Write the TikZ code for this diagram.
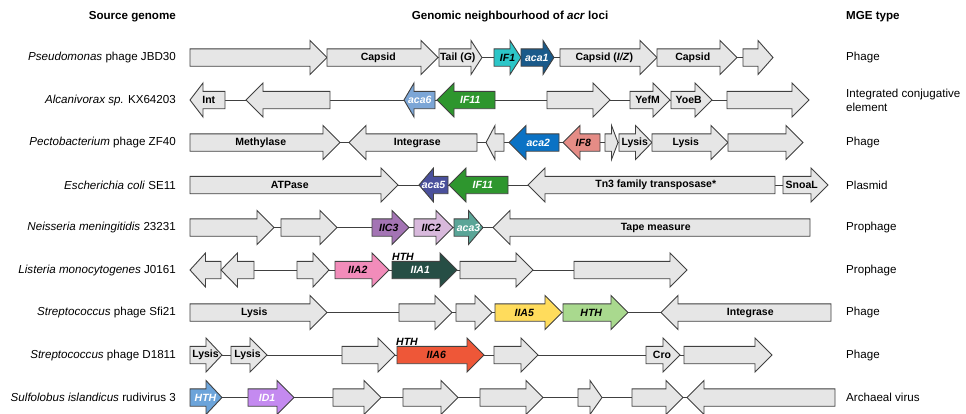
\documentclass[tikz,border=0pt]{standalone}
\usepackage{fontspec}
\setmainfont{Liberation Sans}
\usepackage{tikz}
\definecolor{GeneGray}{HTML}{E6E6E6}
\definecolor{GeneLine}{HTML}{404040}
\definecolor{AcrIFa}{HTML}{2CC6C8}
\definecolor{AcrAcaA}{HTML}{1A5A8A}
\definecolor{AcrAcaF}{HTML}{7CA6D6}
\definecolor{AcrIFk}{HTML}{2E962E}
\definecolor{AcrAcaB}{HTML}{0B72C4}
\definecolor{AcrIFh}{HTML}{E58C86}
\definecolor{AcrAcaE}{HTML}{4A509C}
\definecolor{AcrIICc}{HTML}{A374B4}
\definecolor{AcrIICb}{HTML}{D8B9DC}
\definecolor{AcrAcaC}{HTML}{5AA597}
\definecolor{AcrIIAb}{HTML}{F28CBA}
\definecolor{AcrIIAa}{HTML}{264E45}
\definecolor{AcrIIAe}{HTML}{FFDC5C}
\definecolor{AcrHTHg}{HTML}{A9D98E}
\definecolor{AcrIIAf}{HTML}{EE5738}
\definecolor{AcrHTHb}{HTML}{6CA4DA}
\definecolor{AcrIDa}{HTML}{C48AF0}
\newcounter{genecount}
% forward gene: [head] x-start, x-tip, fill, label style, label
\newcommand{\fgene}[6][17]{%
  \pgfmathsetmacro{\ghead}{min(#1,0.5*(#3-#2))}%
  \pgfmathsetmacro{\gshift}{min(\ghead/4,max(0,(#3-#2-30)/4))}%
  \stepcounter{genecount}%
  \filldraw[gene,fill=#4] (#2,\rowy-8.7) -- ({#3-\ghead},\rowy-8.7) -- ({#3-\ghead},\rowy-17) -- (#3,\rowy) -- ({#3-\ghead},\rowy+17) -- ({#3-\ghead},\rowy+8.7) -- (#2,\rowy+8.7) -- cycle;
  \node[#5] (g\thegenecount) at ({(#2+#3)/2-\gshift},\rowy) {#6};}
% reverse gene: [head] x-tip, x-end, fill, label style, label
\newcommand{\rgene}[6][17]{%
  \pgfmathsetmacro{\ghead}{min(#1,0.5*(#3-#2))}%
  \pgfmathsetmacro{\gshift}{min(\ghead/4,max(0,(#3-#2-30)/4))}%
  \stepcounter{genecount}%
  \filldraw[gene,fill=#4] (#3,\rowy-8.7) -- ({#2+\ghead},\rowy-8.7) -- ({#2+\ghead},\rowy-17) -- (#2,\rowy) -- ({#2+\ghead},\rowy+17) -- ({#2+\ghead},\rowy+8.7) -- (#3,\rowy+8.7) -- cycle;
  \node[#5] (g\thegenecount) at ({(#2+#3)/2+\gshift},\rowy) {#6};}

\begin{document}
\begin{tikzpicture}[x=1pt,y=-1pt,
    gene/.style={draw=GeneLine,line width=0.9pt},
    backbone/.style={draw=GeneLine,line width=0.9pt},
    glab/.style={inner sep=0pt,font=\fontsize{10.5}{12}\selectfont\bfseries},
    acrk/.style={inner sep=0pt,font=\fontsize{10.5}{12}\selectfont\bfseries\itshape},
    acrw/.style={acrk,text=white},
    srclab/.style={anchor=east,inner sep=0pt,font=\fontsize{11.6}{14}\selectfont},
    mgelab/.style={anchor=west,inner sep=0pt,align=left,font=\fontsize{11.6}{14}\selectfont},
    headlab/.style={inner sep=0pt,font=\fontsize{11.6}{14}\selectfont\bfseries}]
  \useasboundingbox (0,0) rectangle (966,413);
  \fill[white] (0,0) rectangle (966,413);
  % column headers
  \node[headlab,anchor=east] (hsrc) at (176,17) {Source genome};
  \node[headlab] (hgen) at (510,17) {Genomic neighbourhood of \textit{acr} loci};
  \node[headlab,anchor=west] (hmge) at (846,17) {MGE type};
  % row labels
  \foreach \i/\src/\mge in {1/{\textit{Pseudomonas} phage JBD30}/Phage,
      2/{\textit{Alcanivorax sp.} KX64203}/{Integrated conjugative\\element},
      3/{\textit{Pectobacterium} phage ZF40}/Phage,
      4/{\textit{Escherichia coli} SE11}/Plasmid,
      5/{\textit{Neisseria meningitidis} 23231}/Prophage,
      6/{\textit{Listeria monocytogenes} J0161}/Prophage,
      7/{\textit{Streptococcus} phage Sfi21}/Phage,
      8/{\textit{Streptococcus} phage D1811}/Phage,
      9/{\textit{Sulfolobus islandicus} rudivirus 3}/Archaeal virus}{
    \node[srclab] (src\i) at (176,{57.5+42.5*(\i-1)}) {\src};
    \node[mgelab] (mge\i) at (846,{57.5+42.5*(\i-1)}) {\mge};
  }

  % row 1
  \def\rowy{57.5}
  \coordinate (r1a) at (190,\rowy); \coordinate (r1b) at (773,\rowy);
  \draw[backbone] (r1a) -- (r1b);
  \fgene{190}{327}{GeneGray}{glab}{}
  \fgene{327}{438}{GeneGray}{glab}{Capsid}
  \fgene[11]{439}{482}{GeneGray}{glab}{Tail (\textit{G})}
  \fgene[11]{494}{521}{AcrIFa}{acrk}{IF1}
  \fgene[11]{521}{554}{AcrAcaA}{acrw}{aca1}
  \fgene{560}{657}{GeneGray}{glab}{Capsid (\textit{I/Z})}
  \fgene{657}{737}{GeneGray}{glab}{Capsid}
  \fgene{743}{773}{GeneGray}{glab}{}

  % row 2
  \def\rowy{100}
  \coordinate (r2a) at (190,\rowy); \coordinate (r2b) at (809,\rowy);
  \draw[backbone] (r2a) -- (r2b);
  \rgene[13]{190}{225}{GeneGray}{glab}{Int}
  \rgene{246}{330}{GeneGray}{glab}{}
  \rgene[10]{404}{435}{AcrAcaF}{acrw}{aca6}
  \rgene{437}{495}{AcrIFk}{acrw}{IF11}
  \fgene{547}{610}{GeneGray}{glab}{}
  \fgene{630}{670}{GeneGray}{glab}{YefM}
  \fgene{671}{712}{GeneGray}{glab}{YoeB}
  \fgene{727}{809}{GeneGray}{glab}{}

  % row 3
  \def\rowy{142.5}
  \coordinate (r3a) at (190,\rowy); \coordinate (r3b) at (803,\rowy);
  \draw[backbone] (r3a) -- (r3b);
  \fgene{190}{340}{GeneGray}{glab}{Methylase}
  \rgene{349}{477}{GeneGray}{glab}{Integrase}
  \rgene{486}{504}{GeneGray}{glab}{}
  \rgene{509}{559}{AcrAcaB}{acrw}{aca2}
  \rgene{563}{600}{AcrIFh}{acrk}{IF8}
  \fgene{605}{618}{GeneGray}{glab}{}
  \fgene{619}{652}{GeneGray}{glab}{Lysis}
  \fgene{652}{728}{GeneGray}{glab}{Lysis}
  \fgene{728}{803}{GeneGray}{glab}{}

  % row 4
  \def\rowy{185}
  \coordinate (r4a) at (190,\rowy); \coordinate (r4b) at (828,\rowy);
  \draw[backbone] (r4a) -- (r4b);
  \fgene{190}{398}{GeneGray}{glab}{ATPase}
  \rgene{419}{448}{AcrAcaE}{acrw}{aca5}
  \rgene{449}{508}{AcrIFk}{acrw}{IF11}
  \rgene{528}{775}{GeneGray}{glab}{Tn3 family transposase*}
  \fgene{783}{828}{GeneGray}{glab}{SnoaL}

  % row 5
  \def\rowy{227.5}
  \coordinate (r5a) at (190,\rowy); \coordinate (r5b) at (810,\rowy);
  \draw[backbone] (r5a) -- (r5b);
  \fgene{190}{274}{GeneGray}{glab}{}
  \fgene{281}{337}{GeneGray}{glab}{}
  \fgene{372}{409}{AcrIICc}{acrk}{IIC3}
  \fgene{414}{453}{AcrIICb}{acrk}{IIC2}
  \fgene{454}{483}{AcrAcaC}{acrw}{aca3}
  \rgene{493}{810}{GeneGray}{glab}{Tape measure}

  % row 6
  \def\rowy{270}
  \coordinate (r6a) at (190,\rowy); \coordinate (r6b) at (687,\rowy);
  \draw[backbone] (r6a) -- (r6b);
  \rgene{190}{221}{GeneGray}{glab}{}
  \rgene{221}{254}{GeneGray}{glab}{}
  \fgene{297}{329}{GeneGray}{glab}{}
  \fgene{335}{389}{AcrIIAb}{acrk}{IIA2}
  \fgene{392}{457}{AcrIIAa}{acrw}{IIA1}
  \fgene{460}{533}{GeneGray}{glab}{}
  \fgene{574}{687}{GeneGray}{glab}{}
  \node[acrk] (hth6) at (403,257) {HTH};

  % row 7
  \def\rowy{312.5}
  \coordinate (r7a) at (190,\rowy); \coordinate (r7b) at (831,\rowy);
  \draw[backbone] (r7a) -- (r7b);
  \fgene{190}{327}{GeneGray}{glab}{Lysis}
  \fgene{399}{452}{GeneGray}{glab}{}
  \fgene{456}{492}{GeneGray}{glab}{}
  \fgene{495}{562}{AcrIIAe}{acrk}{IIA5}
  \fgene{563}{628}{AcrHTHg}{acrk}{HTH}
  \rgene{661}{831}{GeneGray}{glab}{Integrase}

  % row 8
  \def\rowy{355}
  \coordinate (r8a) at (190,\rowy); \coordinate (r8b) at (772,\rowy);
  \draw[backbone] (r8a) -- (r8b);
  \fgene{190}{222}{GeneGray}{glab}{Lysis}
  \fgene{231}{267}{GeneGray}{glab}{Lysis}
  \fgene{342}{395}{GeneGray}{glab}{}
  \fgene{397}{484}{AcrIIAf}{acrk}{IIA6}
  \fgene{494}{538}{GeneGray}{glab}{}
  \fgene{646}{680}{GeneGray}{glab}{Cro}
  \fgene{684}{772}{GeneGray}{glab}{}
  \node[acrk] (hth8) at (407,342) {HTH};

  % row 9
  \def\rowy{397.5}
  \coordinate (r9a) at (190,\rowy); \coordinate (r9b) at (835,\rowy);
  \draw[backbone] (r9a) -- (r9b);
  \fgene{190}{222}{AcrHTHb}{acrw}{HTH}
  \fgene{248}{294}{AcrIDa}{acrw}{ID1}
  \fgene{333}{381}{GeneGray}{glab}{}
  \fgene{403}{458}{GeneGray}{glab}{}
  \fgene{480}{543}{GeneGray}{glab}{}
  \fgene{578}{602}{GeneGray}{glab}{}
  \fgene{632}{683}{GeneGray}{glab}{}
  \rgene{687}{835}{GeneGray}{glab}{}
\end{tikzpicture}
\end{document}
